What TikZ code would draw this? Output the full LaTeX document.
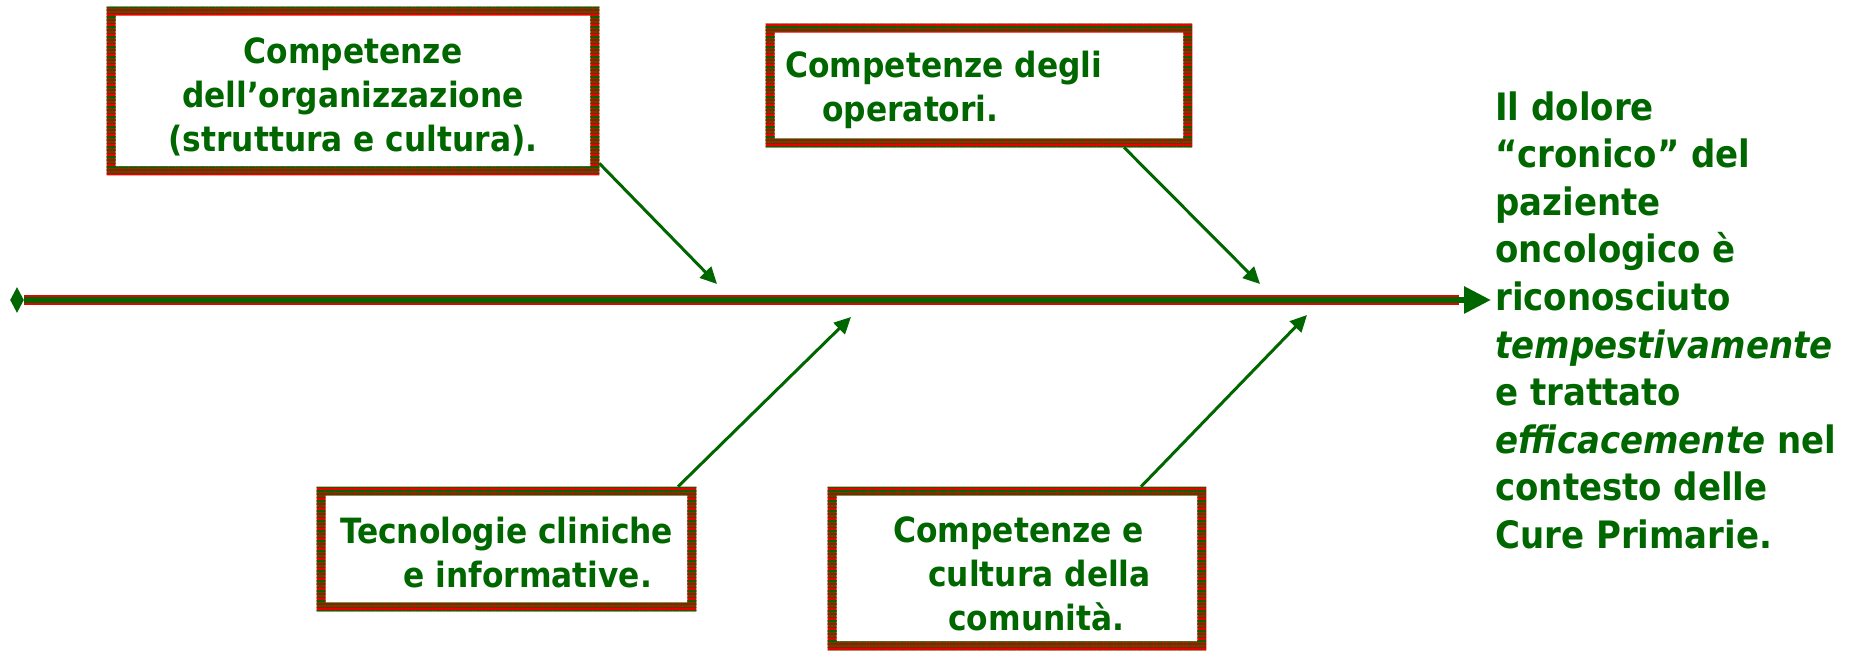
\documentclass[tikz,border=0pt]{standalone}
\usepackage{fontspec}
\setmainfont{DejaVu Sans Condensed}
\usetikzlibrary{arrows.meta,patterns.meta,calc,shapes.geometric}
\definecolor{dg}{RGB}{0,102,0}
\definecolor{rd}{RGB}{235,0,0}
\newcommand\stripedframe[1]{%
  \fill[rd, even odd rule] (#1.north west) rectangle (#1.south east)
     ($(#1.north west)+(9,9)$) rectangle ($(#1.south east)+(-9,-9)$);
  \fill[pattern={Lines[angle=0,distance=1.9pt,line width=0.95pt]}, pattern color=dg, even odd rule]
     (#1.north west) rectangle (#1.south east)
     ($(#1.north west)+(9,9)$) rectangle ($(#1.south east)+(-9,-9)$);
}
\begin{document}
\begin{tikzpicture}[x=0.02cm,y=-0.02cm,
  boxshape/.style={rectangle, draw=none, inner sep=0pt},
  boxtext/.style={text=dg, inner sep=0pt, font=\fontsize{19.8}{25}\bfseries\selectfont},
  conn/.style={draw=dg, line width=1.7pt, -{Triangle[length=9.5pt,width=9pt]}}]
\useasboundingbox (0,0) rectangle (1854,651);

% boxes
\node[boxshape, minimum width=9.84cm, minimum height=3.36cm] (b1) at (353,91) {};
\node[boxshape, minimum width=8.52cm, minimum height=2.46cm] (b2) at (979,85.5) {};
\node[boxshape, minimum width=7.58cm, minimum height=2.48cm] (b3) at (506.5,549) {};
\node[boxshape, minimum width=7.56cm, minimum height=3.26cm] (b4) at (1017,568.5) {};
\stripedframe{b1}
\stripedframe{b2}
\stripedframe{b3}
\stripedframe{b4}

% box texts
\node[boxtext, align=center, anchor=north] (t1) at (353,37.5)
  {Competenze\\dell’organizzazione\\(struttura e cultura).};
\node[boxtext, align=left, anchor=north west] (t2) at (785,50.5)
  {Competenze degli\\\hspace*{0.74cm}operatori.};
\node[boxtext, align=left, anchor=north west] (t3) at (340,516.5)
  {Tecnologie cliniche\\\hspace*{1.26cm}e informative.};
\node[boxtext, align=left, anchor=north west] (t4) at (893,516.5)
  {Competenze e\\\hspace*{0.7cm}cultura della\\\hspace*{1.1cm}comunità.};

% spine
\node[diamond, fill=dg, inner sep=0pt, minimum width=7.9pt, minimum height=14.7pt] (L) at (17,300) {};
\coordinate (Rr) at (1459,300);
\coordinate (R) at (1491,300);
\draw[rd, line width=5.67pt] (L.east) -- (Rr);
\draw[dg, line width=3.4pt, -{Triangle[length=15.3pt,width=14.7pt]}] (L.east) -- (R);

% effect text
\node[text=dg, inner sep=0pt, anchor=north west, align=left,
      font=\fontsize{21.5}{27.1}\bfseries\selectfont] (eff) at (1495,91)
  {Il dolore\\“cronico” del\\paziente\\oncologico è\\riconosciuto\\\textit{tempestivamente}\\e trattato\\\textit{efficacemente} nel\\contesto delle\\Cure Primarie.};

% connectors
\coordinate (p1) at (717,284);
\coordinate (p2) at (1260,284);
\coordinate (p3) at (851,317);
\coordinate (p4) at (1307,315);
\draw[conn] ($(b1.south east)+(0,-12)$) -- (p1);
\draw[conn] ($(b2.south)+(145,0)$) -- (p2);
\draw[conn] ($(b3.north)+(171.5,0)$) -- (p3);
\draw[conn] ($(b4.north)+(124,0)$) -- (p4);
\end{tikzpicture}
\end{document}
